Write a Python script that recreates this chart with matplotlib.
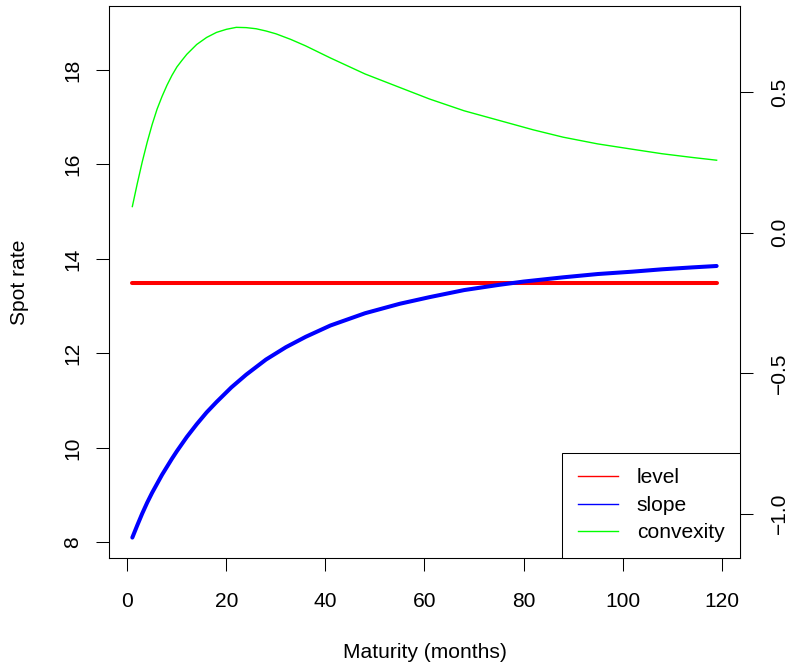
import matplotlib
matplotlib.use("Agg")
import matplotlib.pyplot as plt
from matplotlib.lines import Line2D

# level factor: constant across maturities
level_months = [1, 119]
level = [13.5, 13.5]

# slope factor (left axis, spot rate)
slope_months = [1, 2, 3, 4, 5, 6, 7, 8, 9, 10, 12, 14, 16, 18, 21, 24, 28, 32, 36, 41,
                48, 55, 61, 68, 75, 80, 88, 95, 102, 108, 114, 119]
slope = [8.10, 8.36, 8.61, 8.84, 9.05, 9.24, 9.43, 9.60, 9.77, 9.93, 10.23, 10.50,
         10.75, 10.97, 11.28, 11.55, 11.87, 12.13, 12.35, 12.59, 12.85, 13.05, 13.19,
         13.34, 13.45, 13.52, 13.61, 13.68, 13.73, 13.78, 13.82, 13.85]

# convexity factor (right axis)
conv_months = [1, 2, 3, 4, 5, 6, 7, 8, 9, 10, 11, 12, 14, 16, 18, 20, 22, 24, 26, 28,
               30, 33, 36, 41, 48, 55, 61, 68, 75, 82, 88, 95, 102, 108, 114, 119]
convexity = [0.093, 0.175, 0.252, 0.322, 0.385, 0.44, 0.485, 0.525, 0.56, 0.59, 0.613,
             0.635, 0.67, 0.695, 0.713, 0.724, 0.731, 0.730, 0.726, 0.718, 0.708, 0.688,
             0.665, 0.622, 0.565, 0.517, 0.476, 0.434, 0.400, 0.366, 0.340, 0.316, 0.297,
             0.281, 0.268, 0.258]

x_ticks = [0, 20, 40, 60, 80, 100, 120]
left_ticks = [8, 10, 12, 14, 16, 18]
right_ticks = [-1.0, -0.5, 0.0, 0.5]

plt.rcParams["font.family"] = ["Liberation Sans", "DejaVu Sans"]
plt.rcParams["font.size"] = 15.1

fig = plt.figure(figsize=(7.89, 6.66), dpi=100)
ax = fig.add_axes([0.1381, 0.1622, 0.7998, 0.8288])

ax.plot(level_months, level, color="#ff0000", lw=2.9, solid_capstyle="round")
ax.plot(slope_months, slope, color="#0000ff", lw=2.9, solid_capstyle="round",
        solid_joinstyle="round")

ax.set_xlim(-3.72, 123.72)
ax.set_ylim(7.668, 19.355)
ax.set_xticks(x_ticks)
ax.set_yticks(left_ticks)
ax.tick_params(direction="out", length=9.4, width=0.75, color="black")
ax.tick_params(axis="x", pad=15)
ax.tick_params(axis="y", pad=10, labelrotation=90)
for lab in ax.get_yticklabels():
    lab.set_va("center")

ax.set_xlabel("Maturity (months)")
ax.xaxis.label.set_va("center")
ax.xaxis.set_label_coords(0.5, -0.172)
ax.set_ylabel("Spot rate")
ax.yaxis.label.set_va("center")
ax.yaxis.set_label_coords(-0.142, 0.5)

ax2 = ax.twinx()
ax2.plot(conv_months, convexity, color="#00ff00", lw=1.0, solid_joinstyle="round")
ax2.set_ylim(-1.158, 0.807)
ax2.set_yticks(right_ticks)
ax2.tick_params(direction="out", length=9.4, width=0.75, color="black",
                pad=12, labelrotation=90)
for lab in ax2.get_yticklabels():
    lab.set_va("center")

for a in (ax, ax2):
    for sp in a.spines.values():
        sp.set_linewidth(0.75)
        sp.set_color("black")

handles = [
    Line2D([], [], color="#ff0000", lw=1.0),
    Line2D([], [], color="#0000ff", lw=1.0),
    Line2D([], [], color="#00ff00", lw=1.0),
]
leg = ax2.legend(handles, ["level", "slope", "convexity"], loc="lower right",
                 borderaxespad=0, fancybox=False, edgecolor="black",
                 framealpha=1, handlelength=1.9, handletextpad=0.9,
                 labelspacing=0.4, borderpad=0.75)
leg.get_frame().set_linewidth(0.75)

fig.savefig("out.png", dpi=100)
